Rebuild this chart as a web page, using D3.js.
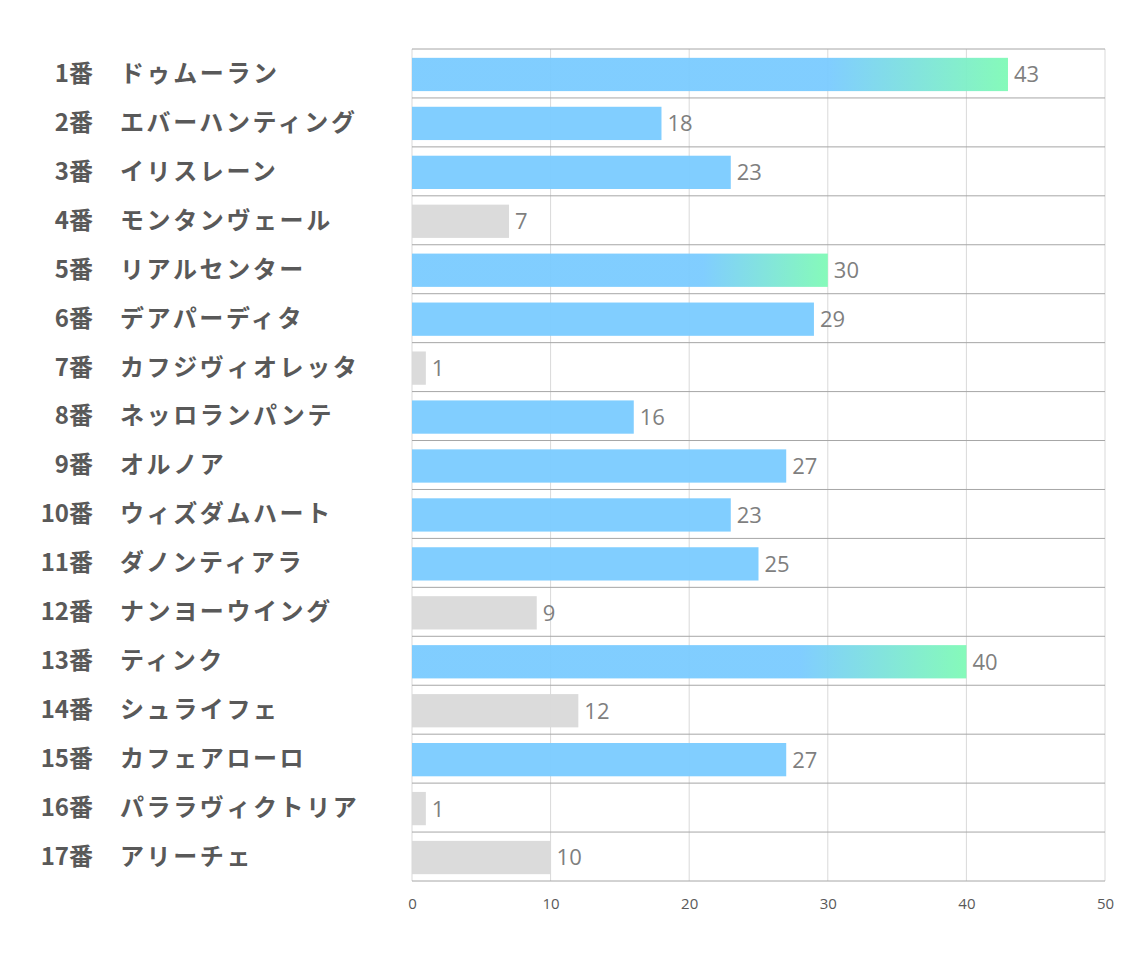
<!DOCTYPE html>
<html>
<head>
<meta charset="utf-8">
<style>
  html, body { margin:0; padding:0; background:#fff; }
  svg { display:block; }
</style>
<script src="https://d3js.org/d3.v7.min.js"></script>
</head>
<body>
<div id="chart"></div>
<script>
// data
var numbers = ['1番','2番','3番','4番','5番','6番','7番','8番','9番','10番','11番','12番','13番','14番','15番','16番','17番'];
var names = ['ドゥムーラン','エバーハンティング','イリスレーン','モンタンヴェール','リアルセンター','デアパーディタ','カフジヴィオレッタ','ネッロランパンテ','オルノア','ウィズダムハート','ダノンティアラ','ナンヨーウイング','ティンク','シュライフェ','カフェアローロ','パララヴィクトリア','アリーチェ'];
var values = [43,18,23,7,30,29,1,16,27,23,25,9,40,12,27,1,10];
var kinds = ['grad','blue','blue','gray','grad','blue','gray','blue','blue','blue','blue','gray','grad','gray','blue','gray','gray'];
var ticks = [0,10,20,30,40,50];

var W = 1134, H = 964;
var plotLeft = 412, plotRight = 1105, plotTop = 49, plotBottom = 881;

var svg = d3.select('#chart').append('svg')
    .attr('width', W).attr('height', H);

var defs = svg.append('defs');

var x = d3.scaleLinear().domain([0, 50]).range([plotLeft, plotRight]);
var y = d3.scaleBand().domain(d3.range(values.length)).range([plotTop, plotBottom])
    .paddingInner(0.32).paddingOuter(0.16);
var rows = d3.scaleBand().domain(d3.range(values.length)).range([plotTop, plotBottom]);

// vertical gridlines
svg.append('g').selectAll('line')
    .data(ticks)
    .enter().append('line')
    .attr('x1', function(d){ return x(d); })
    .attr('x2', function(d){ return x(d); })
    .attr('y1', plotTop).attr('y2', plotBottom)
    .attr('stroke', '#d9d9d9').attr('stroke-width', 1);

// gradients, one per gradient bar
values.forEach(function(v, i){
    if (kinds[i] !== 'grad') return;
    var g = defs.append('linearGradient').attr('id', 'grad' + i)
        .attr('x1', '0%').attr('x2', '100%').attr('y1', '0%').attr('y2', '0%');
    g.append('stop').attr('offset', '0%').attr('stop-color', '#7acbff');
    g.append('stop').attr('offset', '70%').attr('stop-color', '#7acbff');
    g.append('stop').attr('offset', '100%').attr('stop-color', '#7ffab6');
});

// bars
svg.append('g').selectAll('rect')
    .data(values)
    .enter().append('rect')
    .attr('x', x(0))
    .attr('y', function(d, i){ return y(i) + 1; })
    .attr('width', function(d){ return x(d) - x(0); })
    .attr('height', y.bandwidth())
    .attr('fill', function(d, i){
        if (kinds[i] === 'grad') return 'url(#grad' + i + ')';
        return kinds[i] === 'gray' ? '#d9d9d9' : '#7acbff';
    })
    .attr('opacity', 0.95);

// horizontal row lines
svg.append('g').selectAll('line')
    .data(d3.range(values.length + 1))
    .enter().append('line')
    .attr('x1', plotLeft).attr('x2', plotRight)
    .attr('y1', function(d){ return plotTop + d * rows.step(); })
    .attr('y2', function(d){ return plotTop + d * rows.step(); })
    .attr('stroke', '#a6a6a6').attr('stroke-width', 1);

// value labels
svg.append('g').selectAll('text')
    .data(values)
    .enter().append('text')
    .attr('x', function(d){ return x(d) + 6; })
    .attr('y', function(d, i){ return y(i) + y.bandwidth() / 2 + 1; })
    .attr('dy', '0.36em')
    .attr('font-family', '"Open Sans", "Noto Sans", sans-serif')
    .attr('font-size', 22)
    .attr('fill', '#7f7f7f')
    .text(function(d){ return d; });

// category labels
var cat = svg.append('g')
    .attr('font-family', '"Noto Sans CJK JP", sans-serif')
    .attr('font-weight', 'bold')
    .attr('font-size', 24)
    .attr('fill', '#595959');
cat.selectAll('text.num')
    .data(numbers)
    .enter().append('text').attr('class', 'num')
    .attr('x', 93)
    .attr('y', function(d, i){ return rows(i) + rows.bandwidth() / 2; })
    .attr('dy', '0.35em')
    .attr('text-anchor', 'end')
    .text(function(d){ return d; });
cat.selectAll('text.name')
    .data(names)
    .enter().append('text').attr('class', 'name')
    .attr('x', 120)
    .attr('y', function(d, i){ return rows(i) + rows.bandwidth() / 2; })
    .attr('dy', '0.35em')
    .attr('letter-spacing', 2.6)
    .text(function(d){ return d; });

// x axis tick labels
var axis = d3.axisBottom(x).tickValues(ticks).tickSize(0).tickPadding(17);
var ax = svg.append('g')
    .attr('transform', 'translate(0,' + plotBottom + ')')
    .call(axis);
ax.select('.domain').remove();
ax.selectAll('text')
    .attr('font-family', '"Open Sans", "Noto Sans", sans-serif')
    .attr('font-size', 15)
    .attr('fill', '#595959');
</script>
</body>
</html>
